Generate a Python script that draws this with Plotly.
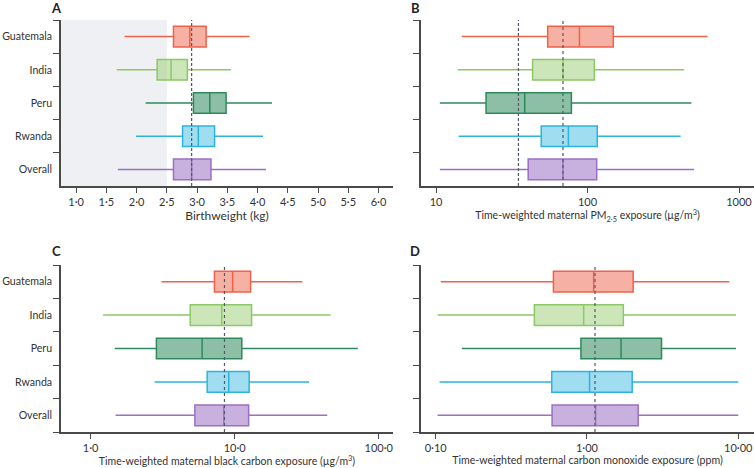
import plotly.graph_objects as go

# ---------------- data ----------------
groups = ["Guatemala", "India", "Peru", "Rwanda", "Overall"]
colors = ["#F0614A", "#8DC866", "#2E8A5C", "#2DB4DE", "#9B70C4"]
fills = ["rgba(240,97,74,0.50)", "rgba(141,200,102,0.45)", "rgba(46,138,92,0.55)",
         "rgba(45,180,222,0.45)", "rgba(155,112,196,0.55)"]

# Birthweight (kg)
bw_low = [1.80, 1.67, 2.15, 1.99, 1.69]
bw_q1 = [2.61, 2.34, 2.94, 2.76, 2.61]
bw_med = [2.88, 2.57, 3.21, 3.02, 2.91]
bw_q3 = [3.15, 2.84, 3.48, 3.29, 3.23]
bw_high = [3.87, 3.56, 4.24, 4.09, 4.14]

# PM2.5 (ug/m3)
pm_low = [14.8, 13.9, 10.6, 14.1, 10.6]
pm_q1 = [54.6, 43.4, 21.4, 49.5, 40.6]
pm_med = [88.5, 68.9, 38.5, 74.8, 68.9]
pm_q3 = [148, 111, 78.3, 116, 115]
pm_high = [620, 434, 485, 412, 506]

# Black carbon (ug/m3)
bc_low = [3.10, 1.22, 1.47, 2.78, 1.49]
bc_q1 = [7.23, 4.91, 2.86, 6.44, 5.29]
bc_med = [9.68, 8.13, 5.94, 9.09, 8.40]
bc_q3 = [12.9, 13.1, 11.2, 12.6, 12.5]
bc_high = [29.5, 46.3, 71.6, 32.8, 43.9]

# Carbon monoxide (ppm)
co_low = [0.108, 0.103, 0.149, 0.106, 0.103]
co_q1 = [0.600, 0.449, 0.912, 0.585, 0.588]
co_med = [1.107, 0.951, 1.68, 1.04, 1.14]
co_q3 = [2.02, 1.74, 3.11, 1.99, 2.18]
co_high = [8.73, 9.66, 9.66, 10.0, 10.0]

# reference lines
bw_ref = 2.91
bw_lbw = 2.5
pm_who = 35
pm_ref = 68.9
bc_ref = 8.49
co_ref = 1.13

# tick labels
bw_ticks = [1.0, 1.5, 2.0, 2.5, 3.0, 3.5, 4.0, 4.5, 5.0, 5.5, 6.0]
bw_text = ["1·0", "1·5", "2·0", "2·5", "3·0", "3·5", "4·0", "4·5", "5·0", "5·5", "6·0"]
pm_ticks = [10, 100, 1000]
pm_text = ["10", "100", "1000"]
bc_ticks = [1, 10, 100]
bc_text = ["1·0", "10·0", "100·0"]
co_ticks = [0.1, 1, 10]
co_text = ["0·10", "1·00", "10·00"]

# ---------------- figure ----------------
W, H = 754, 468
FONT = "Lato"
AXC = "#4a4a4a"

fig = go.Figure()

panels = [
    dict(ax="", low=bw_low, q1=bw_q1, med=bw_med, q3=bw_q3, high=bw_high),
    dict(ax="2", low=pm_low, q1=pm_q1, med=pm_med, q3=pm_q3, high=pm_high),
    dict(ax="3", low=bc_low, q1=bc_q1, med=bc_med, q3=bc_q3, high=bc_high),
    dict(ax="4", low=co_low, q1=co_q1, med=co_med, q3=co_q3, high=co_high),
]

for p in panels:
    for i, g in enumerate(groups):
        fig.add_trace(go.Box(
            y=[g], q1=[p["q1"][i]], median=[p["med"][i]], q3=[p["q3"][i]],
            lowerfence=[p["low"][i]], upperfence=[p["high"][i]],
            orientation="h", width=0.62, whiskerwidth=0,
            line=dict(color=colors[i], width=1.5), fillcolor=fills[i],
            boxpoints=False, showlegend=False, hoverinfo="skip",
            xaxis="x" + p["ax"], yaxis="y" + p["ax"],
        ))

def px_x(a, b):
    return [a / W, b / W]

def px_y(top, bottom):
    return [1 - bottom / H, 1 - top / H]

xl = px_x(61, 393)
xr = px_x(421, 754)
yt = px_y(20, 186)
yb = px_y(265, 432)

tickfont = dict(family=FONT, size=11, color="#333333")

def xaxis(domain, anchor, rng, tv, tt, title, tsize, typ="linear"):
    return dict(domain=domain, anchor=anchor, range=rng, type=typ,
                tickvals=tv, ticktext=tt, ticks="outside", ticklen=5, tickwidth=1.4,
                tickcolor=AXC, showline=True, linecolor=AXC, linewidth=1.6,
                showgrid=False, zeroline=False, tickfont=tickfont,
                title=dict(text=title, font=dict(family=FONT, size=tsize, color="#333333"),
                           standoff=4),
                automargin=False)

def yaxis(domain, anchor, labels):
    return dict(domain=domain, anchor=anchor, type="category",
                categoryorder="array", categoryarray=groups[::-1],
                range=[-0.5, 4.5], tickson="boundaries", ticks="outside",
                ticklen=6, tickwidth=1.4, tickcolor=AXC, showline=True,
                linecolor=AXC, linewidth=1.6, showgrid=False, zeroline=False,
                showticklabels=labels, ticklabelstandoff=5,
                tickfont=dict(family=FONT, size=10.6, color="#333333"),
                automargin=False)

fig.update_layout(
    width=W, height=H, margin=dict(l=0, r=0, t=0, b=0),
    paper_bgcolor="white", plot_bgcolor="white",
    font=dict(family=FONT, size=11, color="#333333"),
    xaxis=xaxis(xl, "y", [0.75, 6.24], bw_ticks, bw_text, "Birthweight (kg)", 12),
    yaxis=yaxis(yt, "x", True),
    xaxis2=xaxis(xr, "y2", [0.901, 3.099], pm_ticks, pm_text,
                 "Time-weighted maternal PM<sub>2·5</sub> exposure (µg/m<sup>3</sup>)", 10.5, "log"),
    yaxis2=yaxis(yt, "x2", False),
    xaxis3=xaxis(xl, "y3", [-0.206, 2.099], bc_ticks, bc_text,
                 "Time-weighted maternal black carbon exposure (µg/m<sup>3</sup>)", 10.5, "log"),
    yaxis3=yaxis(yb, "x3", True),
    xaxis4=xaxis(xr, "y4", [-1.097, 1.104], co_ticks, co_text,
                 "Time-weighted maternal carbon monoxide exposure (ppm)", 10.6, "log"),
    yaxis4=yaxis(yb, "x4", False),
)

# shaded low-birthweight region
fig.add_shape(type="rect", xref="x", yref="y domain", x0=0.75, x1=bw_lbw, y0=0, y1=1,
              fillcolor="#EEF0F3", line_width=0, layer="below")

def vline(xref, yref, x, dash):
    fig.add_shape(type="line", xref=xref, yref=yref + " domain", x0=x, x1=x, y0=0, y1=1,
                  line=dict(color="#4f5a66", width=1.2, dash=dash), layer="above")

vline("x", "y", bw_ref, "3px,2px")
vline("x2", "y2", pm_who, "3px,2px")
vline("x2", "y2", pm_ref, "dot")
vline("x3", "y3", bc_ref, "dot")
vline("x4", "y4", co_ref, "dot")

# panel letters
for letter, xp, yp in [("A", 57, 8), ("B", 415, 8), ("C", 57, 251), ("D", 415, 251)]:
    fig.add_annotation(text="<b>" + letter + "</b>", x=xp / W, y=1 - yp / H, xref="paper",
                       yref="paper", showarrow=False, xanchor="center", yanchor="middle",
                       font=dict(family=FONT, size=13, color="#222222"))

fig.write_html("out.html", config={"displayModeBar": False},
               post_script="document.body.style.margin='0';document.body.style.padding='0';")
